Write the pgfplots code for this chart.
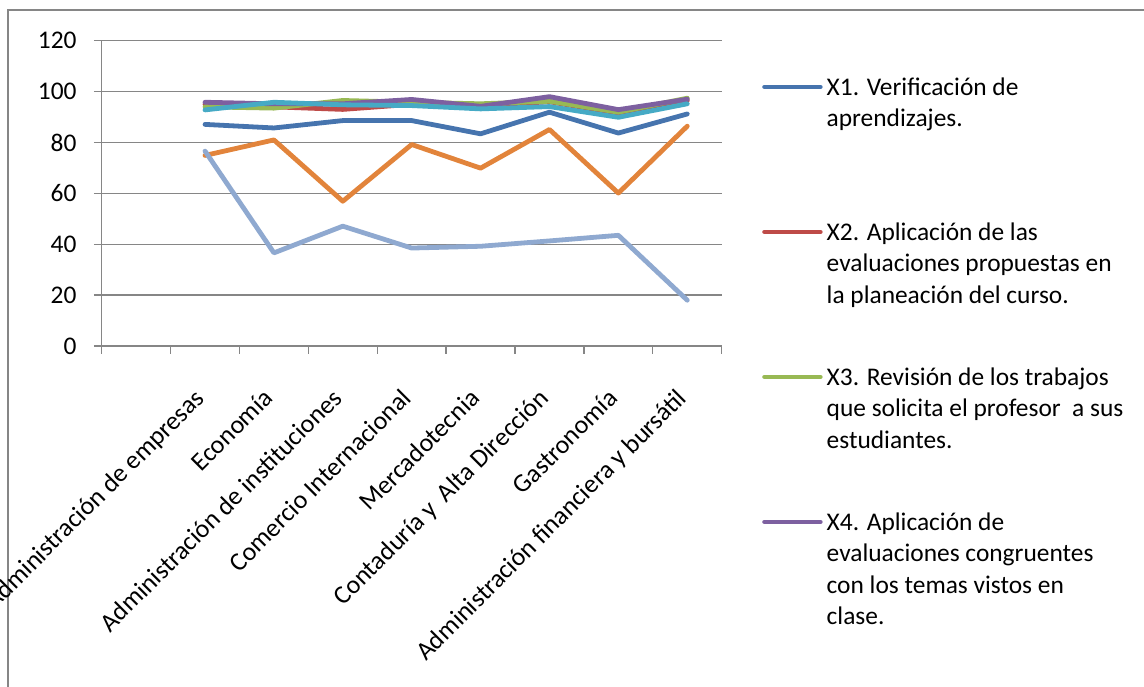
\documentclass[border=0pt]{standalone}
\usepackage{pgfplots}
\pgfplotsset{compat=1.18}
\usepackage{fontspec}
\setmainfont{Carlito}
\definecolor{gridgray}{HTML}{868686}
\definecolor{cA}{HTML}{4674AE}
\definecolor{cB}{HTML}{BE4B48}
\definecolor{cC}{HTML}{98B954}
\definecolor{cD}{HTML}{7D60A0}
\definecolor{cE}{HTML}{46AAC5}
\definecolor{cF}{HTML}{E2843B}
\definecolor{cG}{HTML}{8FA9D0}
\newcommand\LegText[1]{\parbox[b][126.8bp][t]{330bp}{\raggedright\fontsize{25.5}{31.7}\selectfont\strut #1}}
\begin{document}
\begin{tikzpicture}
\draw[gridgray, line width=1.5bp] (8bp,-40bp) -- (8bp,677bp) -- (1200bp,677bp);
\begin{axis}[
  at={(101.7bp,341bp)}, anchor=south west,
  scale only axis, width=620bp, height=305.3bp,
  xmin=0.5, xmax=9.5, ymin=0, ymax=120,
  clip=false,
  axis x line*=bottom, axis y line*=left,
  axis line style={gridgray, line width=1.3bp},
  ytick={0,20,...,120},
  ymajorgrids, grid style={gridgray, line width=1.3bp},
  xtick={0.5,1.5,...,9.5}, xticklabels={,,,,,,,,,},
  extra x ticks={1,2,3,4,5,6,7,8,9},
  extra x tick labels={,Administración de empresas,Economía,Administración de instituciones,Comercio Internacional,Mercadotecnia,Contaduría y\ \ Alta Dirección,Gastronomía,Administración financiera y bursátil},
  extra x tick style={tick style={draw=none}, xticklabel style={rotate=45, anchor=north east, inner sep=0pt, xshift=-32bp, yshift=-15bp, font=\fontsize{26}{30}\selectfont}},
  tick align=outside, major tick length=7.7bp,
  tick style={gridgray, line width=1.3bp},
  /pgf/number format/assume math mode=true,
  tick label style={font=\fontsize{25.5}{30}\selectfont},
  yticklabel style={anchor=east, inner sep=0pt, xshift=-17.3bp},
  legend cell align=left,
  legend style={at={(axis description cs:1.065,0.895)}, anchor=north west, draw=none, fill=none, inner sep=0pt, row sep=18.2bp, column sep=4bp, nodes={inner sep=0pt, anchor=west, text depth=0pt}},
  legend image code/.code={\draw[#1, line width=4.5bp, line cap=round] (0bp,49.4bp) -- (56bp,49.4bp);},
  every axis plot/.append style={line width=4.8bp, line join=round, line cap=round, mark=none},
]
\addplot[cA] coordinates {(2,87.1) (3,85.7) (4,88.6) (5,88.6) (6,83.4) (7,91.9) (8,83.7) (9,91.2)};
\addlegendentry{\LegText{X1. Verificación de\\aprendizajes.}}
\addplot[cB] coordinates {(2,95.0) (3,94.0) (4,93.0) (5,95.0) (6,94.5) (7,96.0) (8,91.5) (9,96.5)};
\addlegendentry{\LegText{X2. Aplicación de las\\evaluaciones propuestas en\\la planeación del curso.}}
\addplot[cC] coordinates {(2,94.0) (3,93.5) (4,96.5) (5,95.8) (6,95.2) (7,96.2) (8,91.9) (9,97.4)};
\addlegendentry{\LegText{X3. Revisión de los trabajos\\que solicita el profesor\ \ a sus\\estudiantes.}}
\addplot[cD] coordinates {(2,95.8) (3,95.2) (4,95.2) (5,96.9) (6,94.2) (7,98.0) (8,92.9) (9,97.0)};
\addlegendentry{\LegText{X4. Aplicación de\\evaluaciones congruentes\\con los temas vistos en\\clase.}}
\addplot[cE, forget plot] coordinates {(2,92.8) (3,95.8) (4,94.8) (5,94.5) (6,93.2) (7,94.1) (8,89.9) (9,95.2)};
\addplot[cF, forget plot] coordinates {(2,74.9) (3,81.0) (4,56.9) (5,79.2) (6,69.9) (7,85.1) (8,60.1) (9,86.4)};
\addplot[cG, forget plot] coordinates {(2,76.6) (3,36.6) (4,47.1) (5,38.5) (6,39.2) (7,41.3) (8,43.5) (9,18.0)};
\end{axis}
\pgfresetboundingbox
\useasboundingbox (0bp,0bp) rectangle (1144bp,687bp);
\end{tikzpicture}
\end{document}
